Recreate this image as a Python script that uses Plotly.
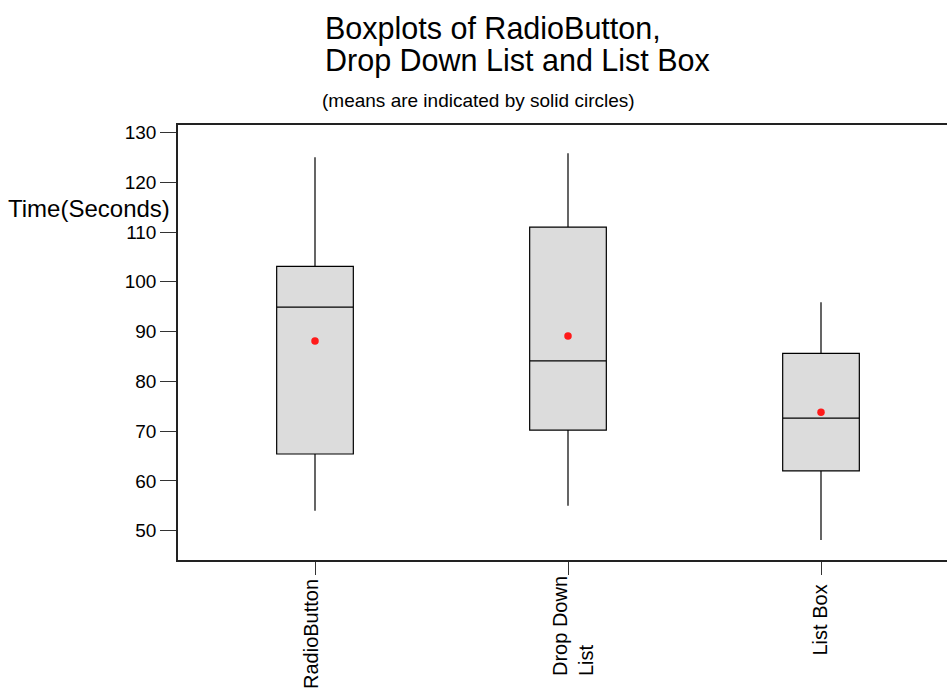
import plotly.graph_objects as go

categories = ["RadioButton", "Drop Down<br>List", "List Box"]
upper_whisker = [125.0, 125.8, 95.9]
q3 = [103.1, 111.0, 85.6]
median = [94.9, 84.1, 72.6]
q1 = [65.4, 70.2, 62.0]
lower_whisker = [54.0, 55.0, 48.1]
means = [88.1, 89.1, 73.8]
ytick_vals = [50, 60, 70, 80, 90, 100, 110, 120, 130]

W, H = 947, 689
L, R, T, B = 178, 947, 125, 560
pos = list(range(len(categories)))

fig = go.Figure()
fig.add_trace(go.Box(
    x=pos, q1=q1, median=median, q3=q3,
    lowerfence=lower_whisker, upperfence=upper_whisker,
    width=0.303, whiskerwidth=0,
    fillcolor="#dcdcdc", line=dict(color="#000000", width=1.2),
    boxpoints=False, showlegend=False, hoverinfo="skip",
))
fig.add_trace(go.Scatter(
    x=pos, y=means, mode="markers",
    marker=dict(color="#ff1a1a", size=7.5, line=dict(width=0)),
    showlegend=False, hoverinfo="skip",
))

def px(x):
    return (x - L) / (R - L)

def py(y):
    return (B - y) / (B - T)

font = "Liberation Sans, Arial, sans-serif"
annotations = [
    dict(text="Boxplots of RadioButton,", x=px(323), y=py(28), xref="paper", yref="paper",
         xanchor="left", yanchor="middle", showarrow=False, font=dict(size=30.5, family=font)),
    dict(text="Drop Down List and List Box", x=px(323), y=py(60), xref="paper", yref="paper",
         xanchor="left", yanchor="middle", showarrow=False, font=dict(size=30.5, family=font)),
    dict(text="(means are indicated by solid circles)", x=px(320), y=py(101),
         xref="paper", yref="paper", xanchor="left", yanchor="middle", showarrow=False,
         font=dict(size=19, family=font)),
    dict(text="Time(Seconds)", x=px(6), y=py(208), xref="paper", yref="paper",
         xanchor="left", yanchor="middle", showarrow=False, font=dict(size=24, family=font)),
]
xshifts = [-4, 5, -2]
ytops = [577, 574, 583]
for p, lab, xs, yt in zip(pos, categories, xshifts, ytops):
    annotations.append(dict(
        text=lab, x=p, y=py(yt), xref="x", yref="paper", xanchor="center",
        yanchor="top", textangle=-90, align="left", showarrow=False, xshift=xs,
        font=dict(size=20, family=font),
    ))

fig.update_layout(
    width=W, height=H,
    margin=dict(l=L, r=W - R, t=T, b=H - B, pad=0),
    paper_bgcolor="white", plot_bgcolor="white",
    font=dict(family=font, color="black", size=19),
    xaxis=dict(
        range=[-0.5415, 2.498], tickvals=pos, showticklabels=False,
        ticks="outside", ticklen=13, tickcolor="#333",
        showline=True, linecolor="#222", linewidth=1.5,
        mirror=True, showgrid=False, zeroline=False,
    ),
    yaxis=dict(
        range=[44.1, 131.5], tickvals=ytick_vals, ticks="outside", ticklen=16,
        tickcolor="#333", tickfont=dict(size=19), showline=True, linecolor="#222",
        linewidth=1.5, showgrid=False, zeroline=False,
    ),
    annotations=annotations,
)
fig.write_html("out.html")
